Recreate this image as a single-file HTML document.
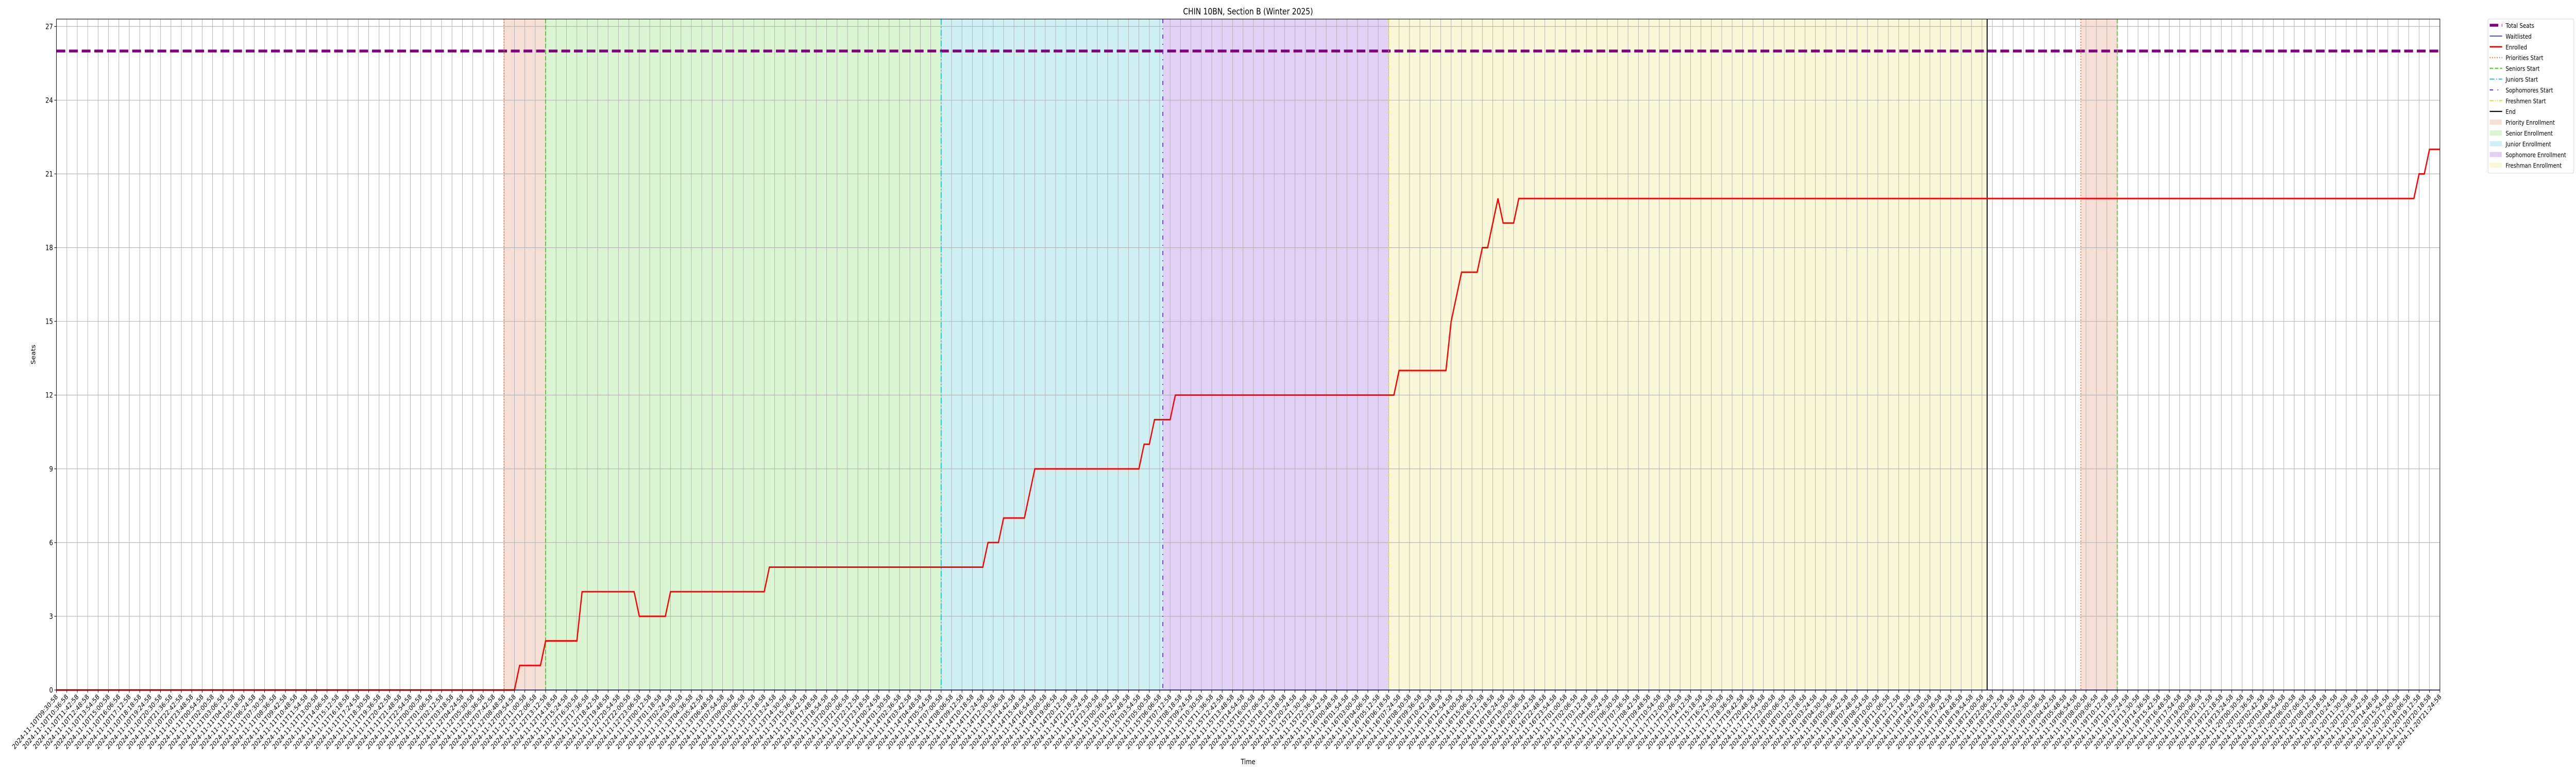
<!DOCTYPE html>
<html><head><meta charset="utf-8">
<style>
html,body{margin:0;padding:0;background:#fff;width:100%;height:100%;overflow:hidden;}
svg{display:block;width:100vw;height:100vh;overflow:hidden;font-family:"DejaVu Sans","Liberation Sans",sans-serif;}
</style></head>
<body>
<svg id="chart" viewBox="0 0 6000 1500" preserveAspectRatio="none" xmlns="http://www.w3.org/2000/svg">
<rect x="0" y="0" width="6000" height="1500" fill="#fff"/>
<g id="shades"></g>
<g id="grid"></g>
<g id="marks"></g>
<g id="axes"></g>
<text x="2907" y="28" font-size="16.7" text-anchor="middle" fill="#000">CHIN 10BN, Section B (Winter 2025)</text>
<text x="2907" y="1483" font-size="13.9" text-anchor="middle" fill="#000">Time</text>
<text x="0" y="0" font-size="13.9" text-anchor="middle" fill="#000" transform="translate(82,688) rotate(-90)">Seats</text>
<g id="legend"></g>
</svg>
<script>
// ---- data ----
const tickCount = 230;
const startTime = "2024-11-10T09:30:58";
const tickStepSeconds = 3960;
const yTicks = [0,3,6,9,12,15,18,21,24,27];
const totalSeats = 26;
const enrolledT = [0,44,44.5,46.5,47,50,50.5,55.5,56,58.5,59,68,68.5,89,89.5,90.5,91,93,94,104,104.5,105,105.5,107,107.5,128.5,129,133.5,134,135,136.5,137,137.5,138.5,139,140,140.5,226.5,227,227.5,228,229];
const enrolledV = [0,0,1,1,2,2,4,4,3,3,4,4,5,5,6,6,7,7,9,9,10,10,11,11,12,12,13,13,15,17,17,18,18,20,19,19,20,20,21,21,22,22];
const waitlistT = [0,229];
const waitlistV = [0,0];
const phaseNames = ["priority","senior","junior","sophomore","freshman"];
const phaseStarts = [43,47,85,106.3,128];
const phaseEnds = [47,85,106.3,128,185.5];
const endT = 185.5;
const phase2Names = ["priority-2"];
const phase2Starts = [194.5];
const phase2Ends = [198];
const senior2Start = 198;

// ---- geometry ----
const L=131.5,R=5683,T=37,B=1339,XMAX=229,YMAX=27.3;
const xs=t=>L+t*(R-L)/XMAX;
const ys=v=>B-v*(B-T)/YMAX;
const NS="http://www.w3.org/2000/svg";
function mk(tag,attrs,parent){const e=document.createElementNS(NS,tag);for(const k in attrs)e.setAttribute(k,attrs[k]);parent.appendChild(e);return e;}
const shades=document.getElementById('shades'),grid=document.getElementById('grid'),marks=document.getElementById('marks'),axes=document.getElementById('axes'),legend=document.getElementById('legend');

const fillCol={priority:"#f6e0d6",senior:"#d9f5d1","junior":"#cef0f2",sophomore:"#e1d2f5",freshman:"#f8f8d8","priority-2":"#f6e0d6"};
const lineCol={priority:"#e8702a",senior:"#44cc22",junior:"#11c4d0",sophomore:"#6a2fd8",freshman:"#dede3a"};
const lineDash={priority:"2,3.5",senior:"8,4",junior:"11,4,2,4",sophomore:"8,10,2,10",freshman:"9,3,2,3,2,3"};

for(let i=0;i<phaseNames.length;i++){
  const r=mk('rect',{x:xs(phaseStarts[i]),y:T,width:xs(phaseEnds[i])-xs(phaseStarts[i]),height:B-T,fill:fillCol[phaseNames[i]]},shades);
  
  
}
for(let i=0;i<phase2Names.length;i++){
  const r=mk('rect',{x:xs(phase2Starts[i]),y:T,width:xs(phase2Ends[i])-xs(phase2Starts[i]),height:B-T,fill:fillCol[phase2Names[i]]},shades);
  
  
}

// grid
for(let i=0;i<tickCount;i++){
  const gl=mk('line',{x1:xs(i),x2:xs(i),y1:T,y2:B,stroke:"#b0b0b0","stroke-width":1.1},grid);
  
  
}
for(const v of yTicks){
  const gl=mk('line',{x1:L,x2:R,y1:ys(v),y2:ys(v),stroke:"#b0b0b0","stroke-width":1.1},grid);
  
  
}

// total seats
const ts=mk('line',{x1:L,x2:R,y1:ys(totalSeats),y2:ys(totalSeats),stroke:"#800080","stroke-width":5.5,"stroke-dasharray":"20.5,8.9"},marks);



// phase start lines
for(let i=0;i<phaseNames.length;i++){
  const n=phaseNames[i];
  const pl=mk('line',{x1:xs(phaseStarts[i]),x2:xs(phaseStarts[i]),y1:T,y2:B,stroke:lineCol[n],"stroke-width":2.1,"stroke-dasharray":lineDash[n]},marks);
  
  
}
const p2=mk('line',{x1:xs(phase2Starts[0]),x2:xs(phase2Starts[0]),y1:T,y2:B,stroke:lineCol.priority,"stroke-width":2.1,"stroke-dasharray":lineDash.priority},marks);


const s2=mk('line',{x1:xs(senior2Start),x2:xs(senior2Start),y1:T,y2:B,stroke:lineCol.senior,"stroke-width":2.1,"stroke-dasharray":lineDash.senior},marks);


const el=mk('line',{x1:xs(endT),x2:xs(endT),y1:T,y2:B,stroke:"#000","stroke-width":2.2},marks);



// waitlist
const wl=mk('polyline',{points:waitlistT.map((t,i)=>xs(t)+','+ys(waitlistV[i])).join(' '),fill:"none",stroke:"#0000ff","stroke-width":1.4},marks);


// enrolled
const en=mk('polyline',{points:enrolledT.map((t,i)=>xs(t)+','+ys(enrolledV[i])).join(' '),fill:"none",stroke:"#ff0000","stroke-width":2.9,"stroke-linejoin":"miter"},marks);



// axes frame
const fr=mk('rect',{x:L,y:T,width:R-L,height:B-T,fill:"none",stroke:"#000","stroke-width":1.1},axes);



// y ticks
for(const v of yTicks){
  mk('line',{x1:L-5,x2:L,y1:ys(v),y2:ys(v),stroke:"#000","stroke-width":1.1},axes);
  const tl=mk('text',{x:L-8,y:ys(v)+5,"font-size":13.9,"text-anchor":"end",fill:"#000"},axes);
  tl.textContent=String(v);
  
  
}
// x ticks
const base=new Date(startTime+"Z").getTime();
function fmt(ms){const d=new Date(ms);const p=n=>String(n).padStart(2,'0');return d.getUTCFullYear()+'-'+p(d.getUTCMonth()+1)+'-'+p(d.getUTCDate())+'T'+p(d.getUTCHours())+':'+p(d.getUTCMinutes())+':'+p(d.getUTCSeconds());}
for(let i=0;i<tickCount;i++){
  const x=xs(i);
  mk('line',{x1:x,x2:x,y1:B,y2:B+5,stroke:"#000","stroke-width":1.1},axes);
  const tl=mk('text',{x:x+4,y:B+14,"font-size":13.2,"text-anchor":"end",fill:"#000",transform:`rotate(-45 ${x+4} ${B+14})`},axes);
  tl.textContent=fmt(base+i*tickStepSeconds*1000);
  
  
}

// legend
const lb=mk('rect',{x:5795,y:37,width:200,height:299,rx:3,fill:"#fff","fill-opacity":0.8,stroke:"#d6d6d6","stroke-width":1.1},legend);


const legLabels=["Total Seats","Waitlisted","Enrolled","Priorities Start","Seniors Start","Juniors Start","Sophomores Start","Freshmen Start","End","Priority Enrollment","Senior Enrollment","Junior Enrollment","Sophomore Enrollment","Freshman Enrollment"];
const legStyle=[
 {c:"#800080",w:5.5,d:"20,8"},{c:"#0000ff",w:1.4},{c:"#ff0000",w:2.9},
 {c:lineCol.priority,w:2.1,d:lineDash.priority},{c:lineCol.senior,w:2.1,d:lineDash.senior},
 {c:lineCol.junior,w:2.1,d:lineDash.junior},{c:lineCol.sophomore,w:2.1,d:lineDash.sophomore},
 {c:lineCol.freshman,w:2.1,d:lineDash.freshman},{c:"#000",w:2.2},
 {f:fillCol.priority},{f:fillCol.senior},{f:fillCol.junior},{f:fillCol.sophomore},{f:fillCol.freshman}];
for(let i=0;i<legLabels.length;i++){
  const y=49+i*20.9;
  const s=legStyle[i];
  const g=mk('g',{},legend);
  
  
  if(s.f){mk('rect',{x:5799,y:y-5,width:28,height:10,fill:s.f},g);}
  else{const a={x1:5799,x2:5828,y1:y,y2:y,stroke:s.c,"stroke-width":s.w};if(s.d)a["stroke-dasharray"]=s.d;mk('line',a,g);}
  const t=mk('text',{x:5836,y:y+5,"font-size":12.3,fill:"#000"},g);
  t.textContent=legLabels[i];
}
</script>
</body></html>
